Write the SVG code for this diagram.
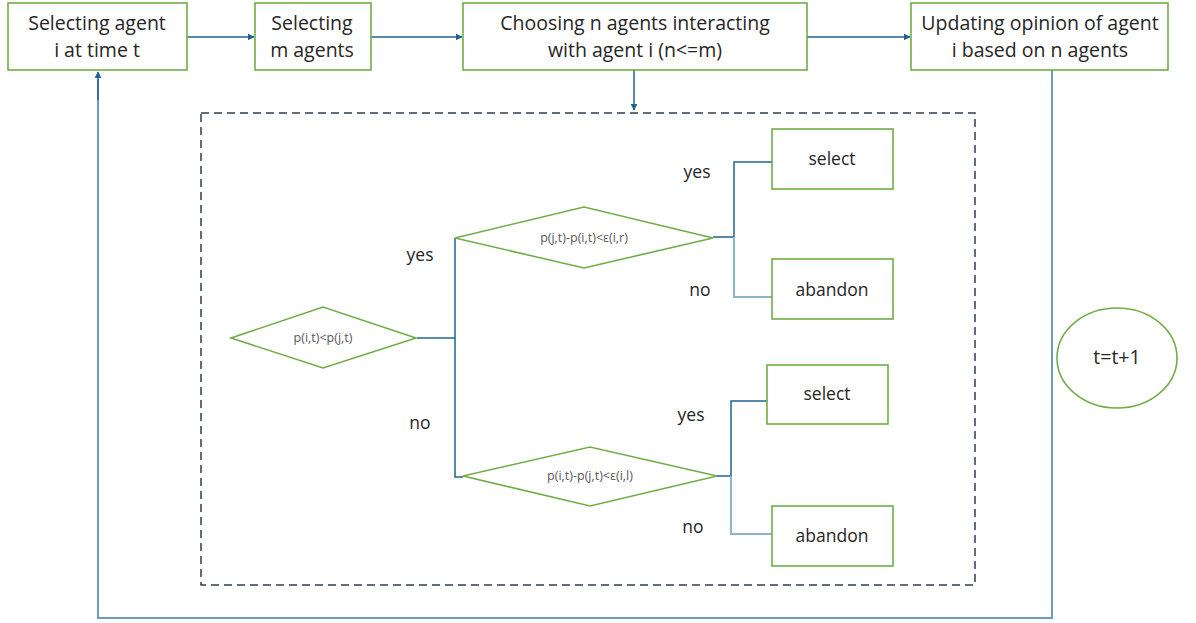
<svg xmlns="http://www.w3.org/2000/svg" width="1196" height="623" viewBox="0 0 1196 623">
<style>
.box{fill:#fff;stroke:#70ad47;stroke-width:1.6}
.t{font-family:"Open Sans","Liberation Sans",Arial,sans-serif;font-size:19.5px;fill:#262626;text-anchor:middle}
.s{font-family:"Open Sans","Liberation Sans",Arial,sans-serif;font-size:12.5px;fill:#595959;text-anchor:middle}
.l{font-family:"Open Sans","Liberation Sans",Arial,sans-serif;font-size:17.5px;fill:#262626;text-anchor:middle}
.c{fill:none;stroke:#1f6391;stroke-width:1.5}
.cl{fill:none;stroke:#8fb4c9;stroke-width:2}
</style>
<defs>
<marker id="ah" viewBox="0 0 10 10" refX="9" refY="5" markerWidth="7" markerHeight="7" markerUnits="userSpaceOnUse" orient="auto">
<path d="M0,0 L10,5 L0,10 z" fill="#1f6391"/>
</marker>
</defs>
<rect width="1196" height="623" fill="#fff"/>
<g id="connectors">
<line class="c" x1="187" y1="37" x2="254" y2="37" marker-end="url(#ah)"/>
<line class="c" x1="371" y1="37" x2="462" y2="37" marker-end="url(#ah)"/>
<line class="c" x1="807" y1="37" x2="910" y2="37" marker-end="url(#ah)"/>
<line class="c" x1="634" y1="70" x2="634" y2="110" marker-end="url(#ah)"/>
<polyline fill="none" stroke="#6f9bb8" stroke-width="2" points="1052,70 1052,618 98,618 98,79"/>
<line class="c" x1="98" y1="100" x2="98" y2="72" marker-end="url(#ah)"/>
<polyline class="c" points="417,338 455,338"/>
<polyline class="c" points="455,238 455,477 463,477"/>
<polyline class="c" points="713,237 734,237 734,162 772,162"/>
<polyline class="cl" points="734,237 734,297 772,297"/>
<polyline class="c" points="717,476 731,476 731,401 767,401"/>
<polyline class="cl" points="731,476 731,534 772,534"/>
</g>
<rect id="group" x="201" y="113" width="774" height="472" fill="none" stroke="#2e3f4f" stroke-width="1.5" stroke-dasharray="8,5"/>
<g id="n1"><rect class="box" x="8" y="3" width="179" height="67"/><text class="t" x="97" y="30">Selecting agent</text><text class="t" x="97" y="57">i at time t</text></g>
<g id="n2"><rect class="box" x="255" y="3" width="116" height="67"/><text class="t" x="312" y="30">Selecting</text><text class="t" x="312" y="57">m agents</text></g>
<g id="n3"><rect class="box" x="463" y="3" width="344" height="67"/><text class="t" x="635" y="30">Choosing n agents interacting</text><text class="t" x="635" y="57">with agent i (n&lt;=m)</text></g>
<g id="n4"><rect class="box" x="911" y="3" width="257" height="67"/><text class="t" x="1040" y="30">Updating opinion of agent</text><text class="t" x="1040" y="57">i based on n agents</text></g>
<g id="d1"><polygon class="box" points="231,338 323,307 416,338 323,368"/><text class="s" x="323" y="342">p(i,t)&lt;p(j,t)</text></g>
<g id="d2"><polygon class="box" points="455,238 584,207 713,238 584,268"/><text class="s" x="584" y="242">p(j,t)-p(i,t)&lt;ε(i,r)</text></g>
<g id="d3"><polygon class="box" points="463,476 590,447 717,476 590,506"/><text class="s" x="590" y="480">p(i,t)-p(j,t)&lt;ε(i,l)</text></g>
<g id="s1"><rect class="box" x="772" y="129" width="121" height="60"/><text class="l" x="832" y="165">select</text></g>
<g id="a1"><rect class="box" x="772" y="259" width="121" height="60"/><text class="l" x="832" y="296">abandon</text></g>
<g id="s2"><rect class="box" x="767" y="365" width="121" height="59"/><text class="l" x="827" y="400">select</text></g>
<g id="a2"><rect class="box" x="772" y="506" width="121" height="60"/><text class="l" x="832" y="542">abandon</text></g>
<g id="e1"><ellipse class="box" cx="1117" cy="358" rx="60" ry="50"/><text class="t" x="1117" y="364">t=t+1</text></g>
<g id="labels">
<text class="l" x="420" y="261">yes</text>
<text class="l" x="420" y="429">no</text>
<text class="l" x="697" y="178">yes</text>
<text class="l" x="700" y="296">no</text>
<text class="l" x="691" y="421">yes</text>
<text class="l" x="693" y="533">no</text>
</g>
</svg>
